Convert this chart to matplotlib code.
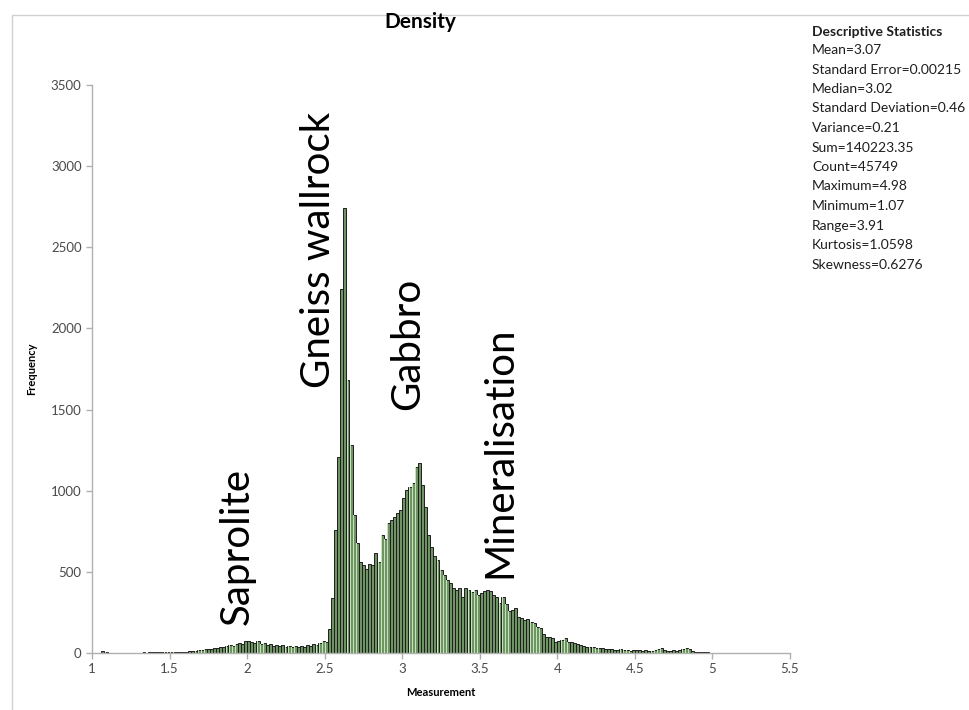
"""
density histogram (excel style) + descriptive statistics
"""

import numpy as np
import matplotlib
matplotlib.use("Agg")
import matplotlib.pyplot as plt
from matplotlib.patches import Rectangle

# veri: 0.02 genislikli siniflar, ilk sinif 1.06 dan baslar
bin_start = 1.06
bin_width = 0.02

counts_106_148 = [10, 4, 3, 2, 2, 2, 3, 2, 2, 3, 2, 3, 3, 4, 3, 4, 4, 5, 5, 4, 6, 8]
counts_150_198 = [6, 4, 5, 6, 7, 8, 10, 11, 14, 16, 18, 22, 24, 27, 30, 33, 38, 36, 42, 48,
                  45, 55, 62, 58, 72]
counts_200_252 = [75, 68, 60, 72, 55, 62, 48, 55, 45, 50, 42, 48, 38, 44, 36, 42, 40, 46, 38, 50,
                  46, 55, 48, 60, 72, 70, 150]
counts_254_298 = [340, 760, 1210, 2240, 2740, 1680, 1280, 850, 680, 560, 540, 520, 550, 545, 615,
                  560, 730, 700, 800, 820, 840, 860, 880]
counts_300_348 = [955, 1005, 1020, 1050, 1145, 1170, 1035, 900, 730, 655, 595, 575, 510, 480, 450,
                  430, 400, 390, 400, 345, 400, 390, 375, 390, 355]
counts_350_410 = [370, 380, 390, 385, 360, 345, 310, 345, 300, 260, 265, 275, 220, 215, 205, 210,
                  190, 185, 160, 155, 115, 100, 100, 92, 70, 72, 80, 92, 70, 65, 60]
counts_412_498 = [55, 50, 45, 40, 38, 35, 30, 32, 28, 25, 22, 24, 20, 18, 22, 16, 18, 15, 17, 20,
                  16, 14, 18, 15, 14, 16, 22, 28, 20, 15, 14, 16, 12, 18, 26, 30, 22, 12, 8, 6,
                  5, 4, 4, 3]

counts = (counts_106_148 + counts_150_198 + counts_200_252 + counts_254_298
          + counts_300_348 + counts_350_410 + counts_412_498)

# etiketler (isim, x, y)
rock_labels = ["Saprolite", "Gneiss wallrock", "Gabbro", "Mineralisation"]
label_x = [1.935, 2.458, 3.032, 3.632]
label_y = [172, 1633, 1497, 462]

stats_lines = [
    "Mean=3.07",
    "Standard Error=0.00215",
    "Median=3.02",
    "Standard Deviation=0.46",
    "Variance=0.21",
    "Sum=140223.35",
    "Count=45749",
    "Maximum=4.98",
    "Minimum=1.07",
    "Range=3.91",
    "Kurtosis=1.0598",
    "Skewness=0.6276",
]

x_ticks = [1, 1.5, 2, 2.5, 3, 3.5, 4, 4.5, 5, 5.5]
y_ticks = [0, 500, 1000, 1500, 2000, 2500, 3000, 3500]

plt.rcParams["font.family"] = ["Lato", "DejaVu Sans"]

fig = plt.figure(figsize=(9.7, 7.1), dpi=100)
ax = fig.add_axes([92 / 970, 1 - 653 / 710, (790 - 92) / 970, (653 - 85) / 710])

lefts = bin_start + bin_width * np.arange(len(counts))

# cubuklar: yesil dolgu, siyah kenar
ax.bar(lefts, counts, width=bin_width, align="edge", color="#6f9463",
       edgecolor="#1e1e1e", linewidth=0.7, zorder=2)
# acik renkli serit (excel gradient etkisi)
ax.bar(lefts + 0.005, counts, width=0.0025, align="edge", color="#c4e3ba",
       linewidth=0, zorder=3)

# eksenler
ax.set_xlim(1, 5.5)
ax.set_ylim(0, 3500)
ax.set_xticks(x_ticks)
ax.set_xticklabels([f"{t:g}" for t in x_ticks])
ax.set_yticks(y_ticks)
for side in ["top", "right"]:
    ax.spines[side].set_visible(False)
for side in ["left", "bottom"]:
    ax.spines[side].set_color("#b0b0b0")
    ax.spines[side].set_linewidth(1.0)
ax.tick_params(axis="both", colors="#b0b0b0", labelcolor="#4a4a4a",
               labelsize=9.5, length=4, width=1.0)

ax.set_xlabel("Measurement", fontsize=8, fontweight="bold", labelpad=8)
ax.set_ylabel("Frequency", fontsize=8, fontweight="bold", labelpad=10)

# kaya tipi etiketleri
for name, lx, ly in zip(rock_labels, label_x, label_y):
    ax.text(lx, ly, name, rotation=90, ha="center", va="bottom",
            fontsize=29, color="black", zorder=4)

# baslik
fig.text(420 / 970, 1 - 22 / 710, "Density", ha="center", va="center",
         fontsize=15, fontweight="bold")

# istatistik kutusu
fig.text(812 / 970, 1 - 32 / 710, "Descriptive Statistics", ha="left", va="center",
         fontsize=10, fontweight="bold", color="#1e1e1e")
for i, line in enumerate(stats_lines):
    fig.text(812 / 970, 1 - (50 + 19.5 * i) / 710, line, ha="left", va="center",
             fontsize=10, color="#1e1e1e")

# grafik alani cercevesi
fig.add_artist(Rectangle((12 / 970, -0.1), 1.0, 1 - 15 / 710 + 0.1,
                         transform=fig.transFigure, fill=False,
                         edgecolor="#d0d0d0", linewidth=1.0))

fig.savefig("out.png", dpi=100)
